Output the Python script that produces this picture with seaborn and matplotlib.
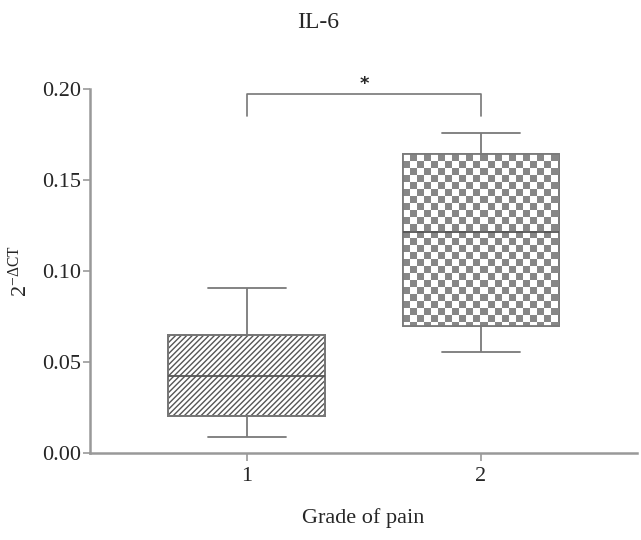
"""Box plot of IL-6 expression by grade of pain."""

import numpy as np
import pandas as pd
import seaborn as sns
import matplotlib.pyplot as plt
from matplotlib.colors import ListedColormap
from matplotlib.patches import PathPatch

# five-number summaries (min, Q1, median, Q3, max)
grades = ["1", "2"]
grade1_values = [0.009, 0.0205, 0.0425, 0.065, 0.0907]
grade2_values = [0.0558, 0.0701, 0.1214, 0.1645, 0.1758]
y_ticks = [0.00, 0.05, 0.10, 0.15, 0.20]

GREY = "#7a7a7a"


def main() -> None:
    sns.set_style("white")
    plt.rcParams["font.family"] = ["Liberation Serif", "DejaVu Serif"]
    plt.rcParams["hatch.linewidth"] = 1.0

    df = pd.DataFrame({
        "grade": [grades[0]] * len(grade1_values) + [grades[1]] * len(grade2_values),
        "value": grade1_values + grade2_values,
    })

    fig = plt.figure(figsize=(6.41, 5.40), dpi=100)
    ax = fig.add_axes([0.140, 0.1606, 0.854, 0.674])

    sns.boxplot(
        data=df, x="grade", y="value", order=grades, ax=ax,
        width=0.67, whis=(0, 100), color="white", linecolor=GREY,
        linewidth=1.3, fliersize=0,
        medianprops={"color": "#555555", "linewidth": 1.3},
    )

    boxes = [p for p in ax.patches if isinstance(p, PathPatch)]
    boxes[0].set_hatch("//////")
    boxes[0].set_edgecolor("#555555")
    outline1 = PathPatch(boxes[0].get_path(), fill=False, edgecolor=GREY, linewidth=1.3, zorder=2.1)
    ax.add_patch(outline1)

    # checkerboard fill for grade 2, clipped to the box
    b = boxes[1]
    verts = b.get_path().vertices
    x0, x1 = verts[:, 0].min(), verts[:, 0].max()
    y0, y1 = verts[:, 1].min(), verts[:, 1].max()
    sx, sy = 7 / 234, 7 / 1820
    nx = int(np.ceil((x1 - x0) / sx))
    ny = int(np.ceil((y1 - y0) / sy))
    checker = (np.add.outer(np.arange(ny), np.arange(nx)) % 2).astype(float)
    img = ax.imshow(
        checker, cmap=ListedColormap(["white", "#878787"]),
        extent=(x0, x0 + nx * sx, y1 - ny * sy, y1), origin="upper",
        interpolation="nearest", aspect="auto", zorder=2.05,
    )
    img.set_clip_path(b)
    outline = PathPatch(b.get_path(), fill=False, edgecolor=GREY, linewidth=1.3, zorder=2.1)
    ax.add_patch(outline)
    for line in ax.lines:
        line.set_zorder(2.2)

    ax.set_xlim(-0.671, 1.667)
    ax.set_ylim(0, 0.20)
    ax.set_yticks(y_ticks)
    ax.set_yticklabels([f"{t:.2f}" for t in y_ticks])

    for side in ["top", "right"]:
        ax.spines[side].set_visible(False)
    for side in ["left", "bottom"]:
        ax.spines[side].set_color("#999999")
        ax.spines[side].set_linewidth(1.8)
    ax.tick_params(axis="y", direction="out", length=5, width=1.2,
                   color="#999999", labelsize=16, left=True, pad=1)
    ax.tick_params(axis="x", direction="out", length=6, width=1.2,
                   color="#999999", labelsize=16, bottom=True, pad=4)

    ax.set_xlabel("Grade of pain", fontsize=16, labelpad=16)
    ax.set_ylabel(r"$\mathregular{2^{-\Delta CT}}$", fontsize=16)
    ax.yaxis.set_label_coords(-0.106, 0.5)
    fig.suptitle("IL-6", fontsize=17, x=0.496, y=0.978)

    # significance bracket
    ax.plot([0, 0, 1, 1], [0.1853, 0.1973, 0.1973, 0.1853],
            color="#777777", linewidth=1.2, clip_on=False)
    ax.text(0.5, 0.1978, "*", ha="center", va="bottom", fontsize=13,
            fontweight="bold", family="DejaVu Sans", clip_on=False)

    fig.savefig("out.png", dpi=100)
    plt.close(fig)


if __name__ == "__main__":
    main()
